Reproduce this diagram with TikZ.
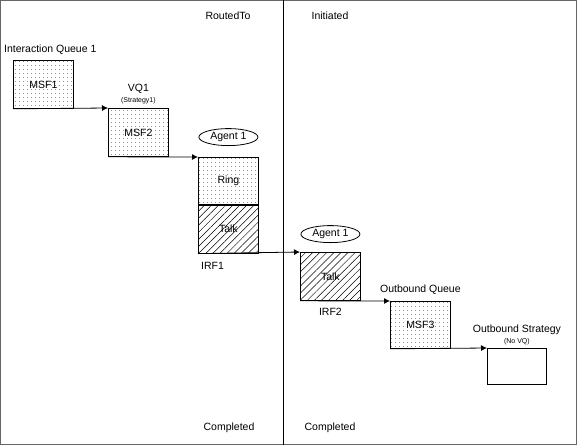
\documentclass[tikz,border=0pt]{standalone}
\usepackage{fontspec}
\setmainfont{Liberation Sans}
\usetikzlibrary{arrows,arrows.meta,shapes,patterns,patterns.meta,positioning}
\tikzset{
  dotbox/.style={draw,line width=0.8pt,minimum width=60pt,minimum height=48pt,
    anchor=north west,inner sep=0pt,font=\fontsize{10.5}{12}\selectfont,
    postaction={pattern={Dots[distance=4pt,radius=0.45pt]}}},
  hatchbox/.style={draw,line width=0.8pt,minimum width=60pt,minimum height=48pt,
    anchor=north west,inner sep=0pt,font=\fontsize{10.5}{12}\selectfont,
    postaction={pattern={Lines[angle=45,distance=5pt,line width=0.5pt]}}},
  flow/.style={-{Latex[length=6pt,width=6pt]},line width=0.8pt},
  lbl/.style={font=\fontsize{10.5}{12}\selectfont,inner sep=0pt},
  tiny/.style={font=\fontsize{7}{8}\selectfont,inner sep=0pt},
  agent/.style={draw,ellipse,line width=0.8pt,minimum width=59pt,minimum height=17pt,
    inner sep=0pt,font=\fontsize{10.5}{12}\selectfont}
}
\begin{document}
\begin{tikzpicture}[x=1pt,y=-1pt]
  \useasboundingbox (0,0) rectangle (577,445);
  \draw[gray!80!black,line width=1pt] (0.5,0.5) rectangle (576.5,444.5);
  \draw[line width=1pt] (283,0) -- (283,445);
  % state headings
  \node[lbl] (routed) at (228,16) {RoutedTo};
  \node[lbl] (init) at (330,16) {Initiated};
  \node[lbl] (done1) at (229,428) {Completed};
  \node[lbl] (done2) at (330,428) {Completed};
  % routed part
  \node[dotbox] (msf1) at (13,60) {MSF1};
  \node[lbl,anchor=south west] (iq) at (4,55) {Interaction Queue 1};
  \node[dotbox] (msf2) at (108,108) {MSF2};
  \node[tiny,above=4pt of msf2] (strat) {(Strategy1)};
  \node[lbl,above=3pt of strat] (vq) {VQ1};
  \node[dotbox,minimum height=47pt] (ring) at (198,157) {Ring};
  \node[hatchbox] (talk1) at (ring.south west) {Talk};
  \node[agent,above=11pt of ring] (agent1) {Agent 1};
  \node[lbl,below=8pt of talk1.south west,anchor=north west,xshift=3pt] (irf1) {IRF1};
  \draw[flow] (msf1.south west) -- (msf2.north west);
  \draw[flow] (msf2.south west) -- (ring.north west);
  % initiated part
  \node[hatchbox] (talk2) at (300,252) {Talk};
  \node[agent,above=9pt of talk2] (agent2) {Agent 1};
  \node[lbl,below=7pt of talk2] (irf2) {IRF2};
  \draw[flow] (talk1.south west) -- (talk2.north west);
  \node[dotbox,minimum height=47pt] (msf3) at (390,301) {MSF3};
  \node[lbl,above=6pt of msf3] (obq) {Outbound Queue};
  \draw[flow] (talk2.south west) -- (msf3.north west);
  \node[draw,line width=0.8pt,minimum width=59pt,minimum height=36pt,anchor=north west] (obs) at (487,348) {};
  \node[tiny,above=3pt of obs] (novq) {(No VQ)};
  \node[lbl,above=3pt of novq] (obstrat) {Outbound Strategy};
  \draw[flow] (msf3.south west) -- (obs.north west);
\end{tikzpicture}
\end{document}
